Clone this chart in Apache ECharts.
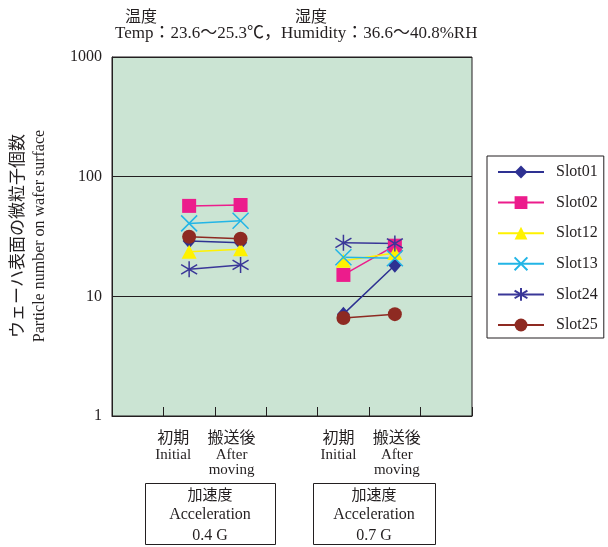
<!DOCTYPE html>
<html>
<head>
<meta charset="utf-8">
<title>Particle number on wafer surface</title>
<script src="https://cdn.jsdelivr.net/npm/echarts@6/dist/echarts.min.js"></script>
</head>
<body style="margin:0">
<div id="main" style="width:608px;height:547px;"></div>
<script>
// x categories (7 slots, the empty ones only make the gaps)
var catJp = ['', '初期', '搬送後', '', '初期', '搬送後', ''];
var catEn = ['', 'Initial', 'After\nmoving', '', 'Initial', 'After\nmoving', ''];
var catShift = [0, -16, -9, 0, -5, 2, 0];
var yTicks = [1, 10, 100, 1000];

// values: 0.4G initial, 0.4G after, 0.7G initial, 0.7G after
var slot01 = [29, 28, 7.1, 18.2];
var slot02 = [57, 58, 15.1, 26.5];
var slot12 = [23.6, 24.8, 19.8, 23];
var slot13 = [40.7, 42.8, 21.2, 20.8];
var slot24 = [16.8, 18.3, 28, 27.7];
var slot25 = [31.5, 30.3, 6.6, 7.1];

var names = ['Slot01', 'Slot02', 'Slot12', 'Slot13', 'Slot24', 'Slot25'];
var values = [slot01, slot02, slot12, slot13, slot24, slot25];
var colors = ['#2e3192', '#ec1c8c', '#fff200', '#22b5e6', '#3a3798', '#8e2a22'];
var symbols = ['diamond', 'rect', 'triangle',
    'path://M0,0L10,10M0,10L10,0',
    'path://M5,0L5,10M0,2L10,8M0,8L10,2',
    'circle'];
var sizes = [[13, 15], 14, [15, 14], 16, 16, 14];

var serif = "'Liberation Serif', 'Noto Sans CJK JP', serif";
var ink = '#231f20';

var series = names.map(function (n, i) {
    var v = values[i];
    var isPath = symbols[i].indexOf('path://') === 0;
    return {
        name: n,
        type: 'line',
        data: [null, v[0], v[1], null, v[2], v[3], null],
        symbol: symbols[i],
        symbolSize: sizes[i],
        lineStyle: {color: colors[i], width: 1.5},
        itemStyle: {
            color: colors[i],
            borderColor: colors[i],
            borderWidth: isPath ? 1.5 : 0
        },
        emphasis: {disabled: true}
    };
});

var chart = echarts.init(document.getElementById('main'));
chart.setOption({
    animation: false,
    grid: {
        left: 112, right: 136, top: 57, bottom: 131,
        show: true,
        backgroundColor: '#cbe4d3',
        borderColor: ink,
        borderWidth: 1
    },
    legend: {
        orient: 'vertical',
        left: 487, top: 156,
        itemWidth: 46, itemHeight: 16, itemGap: 14.6,
        padding: [8, 6, 5, 10],
        borderColor: ink, borderWidth: 1,
        textStyle: {fontFamily: serif, fontSize: 16, color: ink, padding: [0, 0, 0, 7]},
        data: names
    },
    xAxis: {
        type: 'category',
        boundaryGap: true,
        data: catJp.map(function (c, i) {
            return {
                value: c + '|' + catEn[i],
                textStyle: {padding: [0, catShift[i] < 0 ? -2 * catShift[i] : 0, 0, catShift[i] > 0 ? 2 * catShift[i] : 0]}
            };
        }),
        axisLine: {lineStyle: {color: ink, width: 1}},
        axisTick: {show: true, inside: true, length: 9, interval: 0, lineStyle: {color: ink, width: 1}},
        axisLabel: {
            interval: 0,
            margin: 10,
            formatter: function (v) {
                if (!v || v === '|') return '';
                var p = v.split('|');
                return '{jp|' + p[0] + '}\n' + p[1].split('\n').map(function (s) {
                    return '{en|' + s + '}';
                }).join('\n');
            },
            rich: {
                jp: {fontFamily: "'Noto Sans CJK JP'", fontSize: 16, color: ink, lineHeight: 22},
                en: {fontFamily: serif, fontSize: 15, color: ink, lineHeight: 15}
            }
        },
        splitLine: {show: false}
    },
    yAxis: {
        type: 'log',
        logBase: 10,
        min: yTicks[0],
        max: yTicks[yTicks.length - 1],
        axisLine: {show: true, lineStyle: {color: ink}},
        axisTick: {show: false},
        axisLabel: {
            fontFamily: serif, fontSize: 16, color: ink, margin: 10,
            formatter: function (v) { return String(Math.round(v)); }
        },
        splitLine: {lineStyle: {color: ink, width: 1}},
        minorSplitLine: {show: false}
    },
    series: series,
    graphic: [
        {type: 'text', left: 125, top: 8, style: {text: '温度', font: "16px 'Noto Sans CJK JP'", fill: ink}},
        {type: 'text', left: 295, top: 8, style: {text: '湿度', font: "16px 'Noto Sans CJK JP'", fill: ink}},
        {type: 'text', left: 115, top: 25, style: {text: 'Temp：23.6～25.3℃，Humidity：36.6～40.8%RH', font: "17px " + serif, fill: ink}},
        {
            type: 'text', x: 28, y: 236, rotation: Math.PI / 2,
            style: {
                text: '{jp|ウェーハ表面の微粒子個数}\n{en|Particle number on wafer surface}',
                align: 'center', verticalAlign: 'middle',
                rich: {
                    jp: {fontFamily: "'Noto Sans CJK JP'", fontSize: 17, fill: ink, lineHeight: 23},
                    en: {fontFamily: serif, fontSize: 16, fill: ink, lineHeight: 23}
                }
            }
        },
        {type: 'rect', shape: {x: 145.5, y: 483.5, width: 130, height: 61}, style: {fill: '#fff', stroke: ink, lineWidth: 1}},
        {type: 'rect', shape: {x: 313.5, y: 483.5, width: 122, height: 61}, style: {fill: '#fff', stroke: ink, lineWidth: 1}},
        {
            type: 'text', x: 210, y: 515,
            style: {
                text: '{jp|加速度}\n{en|Acceleration}\n{en|0.4 G}', align: 'center', verticalAlign: 'middle',
                rich: {jp: {fontFamily: "'Noto Sans CJK JP'", fontSize: 15, fill: ink, lineHeight: 20}, en: {fontFamily: serif, fontSize: 16, fill: ink, lineHeight: 21}}
            }
        },
        {
            type: 'text', x: 374, y: 515,
            style: {
                text: '{jp|加速度}\n{en|Acceleration}\n{en|0.7 G}', align: 'center', verticalAlign: 'middle',
                rich: {jp: {fontFamily: "'Noto Sans CJK JP'", fontSize: 15, fill: ink, lineHeight: 20}, en: {fontFamily: serif, fontSize: 16, fill: ink, lineHeight: 21}}
            }
        }
    ]
});
</script>
</body>
</html>
